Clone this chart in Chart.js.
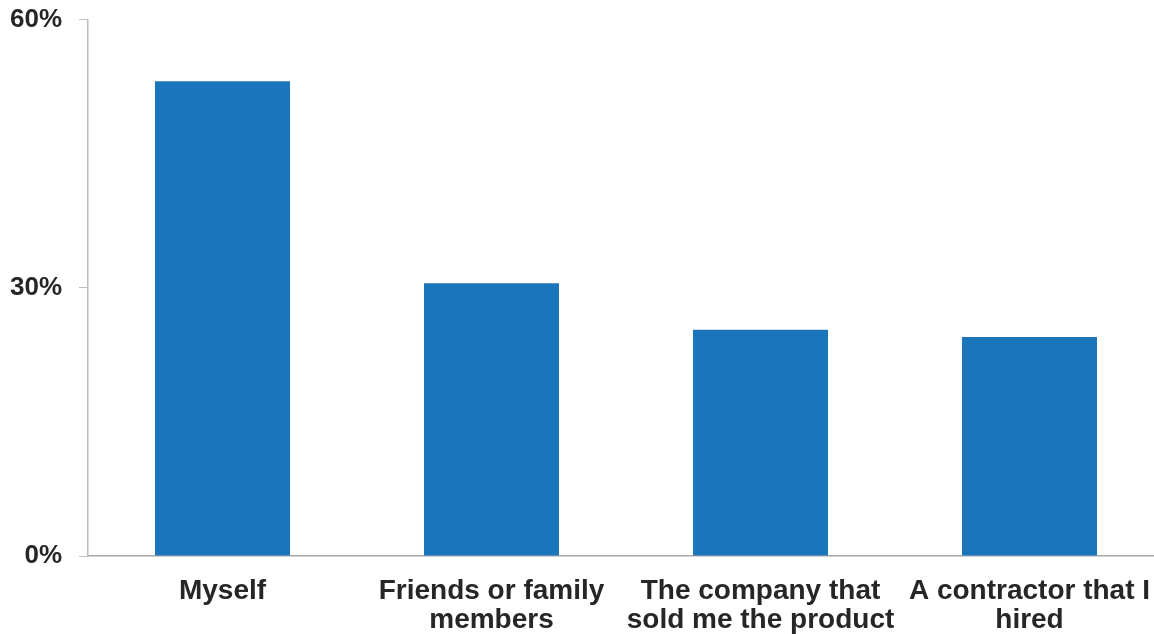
<!DOCTYPE html>
<html>
<head>
<meta charset="utf-8">
<script src="https://cdn.jsdelivr.net/npm/chart.js@4"></script>
<style>
  body { margin: 0; overflow: hidden; background: #fff; }
  #wrap { position: relative; width: 1164px; height: 647px; margin-top: -13px; }
</style>
</head>
<body>
<div id="wrap"><canvas id="bars"></canvas></div>
<script>
// who installed it
var categories = [
  ['Myself'],
  ['Friends or family', 'members'],
  ['The company that', 'sold me the product'],
  ['A contractor that I', 'hired']
]
var shares = [53.1, 30.5, 25.3, 24.5]
var yTicks = [0, 30, 60]

var textColor = '#262626'
var axisColor = '#bdbdbd'

var ctx = document.getElementById('bars')
var chart = new Chart(ctx, {
  type: 'bar',
  data: {
    labels: categories,
    datasets: [{
      data: shares,
      backgroundColor: '#1b75bb',
      borderWidth: 0,
      categoryPercentage: 1,
      barPercentage: 0.502
    }]
  },
  options: {
    responsive: true,
    maintainAspectRatio: false,
    animation: false,
    layout: { padding: 0 },
    plugins: { legend: { display: false }, tooltip: { enabled: false } },
    scales: {
      x: {
        grid: { display: false },
        border: { display: true, color: '#a8a8a8', width: 1.5 },
        ticks: {
          color: textColor,
          padding: 13,
          maxRotation: 0,
          autoSkip: false,
          font: { family: 'Liberation Sans, Arial, sans-serif', size: 28, weight: 'bold', lineHeight: 1.04 }
        },
        afterFit: function (s) { s.height = 78 }
      },
      y: {
        min: 0,
        max: 60,
        afterBuildTicks: function (s) { s.ticks = yTicks.map(function (v) { return { value: v } }) },
        grid: { drawOnChartArea: false, color: axisColor, tickLength: 9 },
        border: { color: axisColor, width: 1.5 },
        ticks: {
          color: textColor,
          padding: 17,
          callback: function (v) { return v + '%' },
          font: { family: 'Liberation Sans, Arial, sans-serif', size: 26, weight: 'bold' }
        },
        afterFit: function (s) { s.width = 88 }
      }
    }
  }
})
</script>
</body>
</html>
